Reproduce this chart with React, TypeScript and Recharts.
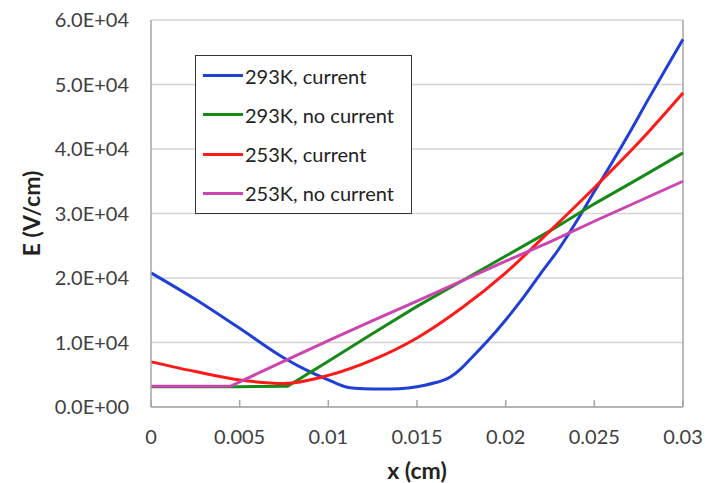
import { LineChart, Line, XAxis, YAxis, CartesianGrid, ReferenceLine, Label } from 'recharts';

const xTicks = [0, 0.005, 0.01, 0.015, 0.02, 0.025, 0.03];
const xTickLabels = ['0', '0.005', '0.01', '0.015', '0.02', '0.025', '0.03'];
const yTicks = [0, 10000, 20000, 30000, 40000, 50000, 60000];
const yTickLabels = ['0.0E+00', '1.0E+04', '2.0E+04', '3.0E+04', '4.0E+04', '5.0E+04', '6.0E+04'];

// 293K, current
const blueX = [0, 0.0025, 0.005, 0.0075, 0.009, 0.01, 0.0105, 0.011, 0.0115, 0.0125, 0.0135, 0.0145, 0.015, 0.0155, 0.016, 0.0165, 0.0169, 0.0175, 0.018, 0.019, 0.02, 0.021, 0.022, 0.023, 0.024, 0.025, 0.026, 0.027, 0.028, 0.029, 0.03];
const blueE = [20800, 16700, 12200, 7600, 5400, 4200, 3600, 3100, 2900, 2800, 2800, 2950, 3150, 3400, 3750, 4150, 4700, 6000, 7400, 10300, 13500, 17000, 20800, 24500, 28800, 33400, 37900, 42600, 47500, 52300, 57000];

// 293K, no current
const greenX = [0, 0.0025, 0.005, 0.0077, 0.01, 0.0125, 0.015, 0.0175, 0.02, 0.0225, 0.025, 0.0275, 0.03];
const greenE = [3150, 3150, 3150, 3200, 7100, 11400, 15600, 19500, 23400, 27300, 31500, 35400, 39400];

// 253K, current
const redX = [0, 0.0025, 0.005, 0.0075, 0.01, 0.0125, 0.015, 0.0175, 0.02, 0.0225, 0.025, 0.0275, 0.03];
const redE = [7000, 5500, 4200, 3650, 4900, 7300, 10700, 15300, 20800, 27300, 34000, 41000, 48700];

// 253K, no current
const pinkX = [0, 0.0025, 0.0045, 0.0075, 0.01, 0.0125, 0.015, 0.0175, 0.02, 0.0225, 0.025, 0.0275, 0.03];
const pinkE = [3200, 3200, 3250, 7100, 10300, 13400, 16400, 19500, 22600, 25600, 28800, 31900, 35000];

const zip = (xs: number[], es: number[]) => xs.map((x, i) => ({ x, e: es[i] }));

const series = [
  { name: '293K, current', color: '#1f3fd6', curve: 'monotone', data: zip(blueX, blueE) },
  { name: '293K, no current', color: '#168a16', curve: 'linear', data: zip(greenX, greenE) },
  { name: '253K, current', color: '#ff1a1a', curve: 'monotone', data: zip(redX, redE) },
  { name: '253K, no current', color: '#cc44b0', curve: 'linear', data: zip(pinkX, pinkE) },
];

const FONT = 'Lato, sans-serif';

function LegendBox() {
  return (
    <div
      style={{
        position: 'absolute', left: 195, top: 55, width: 217, height: 159, boxSizing: 'border-box',
        border: '1.5px solid #333', background: '#fff', fontFamily: FONT,
        display: 'flex', flexDirection: 'column', justifyContent: 'space-around', paddingLeft: 7,
      }}
    >
      {series.map((s) => (
        <div key={s.name} style={{ display: 'flex', alignItems: 'center', height: 40 }}>
          <span style={{ display: 'inline-block', width: 40, height: 3, background: s.color, marginRight: 2 }} />
          <span style={{ fontSize: 20, color: '#222' }}>{s.name}</span>
        </div>
      ))}
    </div>
  );
}

export default function App() {
  return (
    <div style={{ position: 'absolute', left: 0, top: 0, width: 705, height: 483, background: '#fff', fontFamily: FONT }}>
      <LineChart width={705} height={483} margin={{ top: 20, right: 22, bottom: 0, left: 0 }}>
        <CartesianGrid horizontal vertical={false} stroke="#d4d4d4" strokeWidth={1.5} />
        <XAxis
          type="number"
          dataKey="x"
          domain={[0, 0.03]}
          ticks={xTicks}
          tickFormatter={(v: number) => xTickLabels[xTicks.indexOf(v)] ?? String(v)}
          height={76}
          axisLine={{ stroke: '#a6a6a6', strokeWidth: 1.5 }}
          tickLine={{ stroke: '#a6a6a6', strokeWidth: 1.5 }}
          tickSize={-7}
          tickMargin={30}
          tick={{ fontSize: 20, fill: '#404040', fontFamily: FONT }}
        >
          <Label value="x (cm)" position="insideBottom" offset={4} style={{ fontSize: 23, fontWeight: 700, fill: '#222', fontFamily: FONT }} />
        </XAxis>
        <YAxis
          type="number"
          domain={[0, 60000]}
          ticks={yTicks}
          tickFormatter={(v: number) => yTickLabels[yTicks.indexOf(v)] ?? String(v)}
          width={151}
          axisLine={{ stroke: '#a6a6a6', strokeWidth: 1.5 }}
          tickLine={false}
          tickSize={0}
          tickMargin={22}
          tick={{ fontSize: 20, fill: '#404040', fontFamily: FONT }}
        >
          <Label value="E (V/cm)" angle={-90} position="insideLeft" offset={32} style={{ fontSize: 23, fontWeight: 700, fill: '#222', textAnchor: 'middle', fontFamily: FONT }} />
        </YAxis>
        <ReferenceLine x={0.03} stroke="#a6a6a6" strokeWidth={1.5} />
        {series.map((s) => (
          <Line
            key={s.name}
            data={s.data}
            dataKey="e"
            name={s.name}
            type={s.curve as any}
            stroke={s.color}
            strokeWidth={3}
            dot={false}
            isAnimationActive={false}
          />
        ))}
      </LineChart>
      <LegendBox />
    </div>
  );
}
